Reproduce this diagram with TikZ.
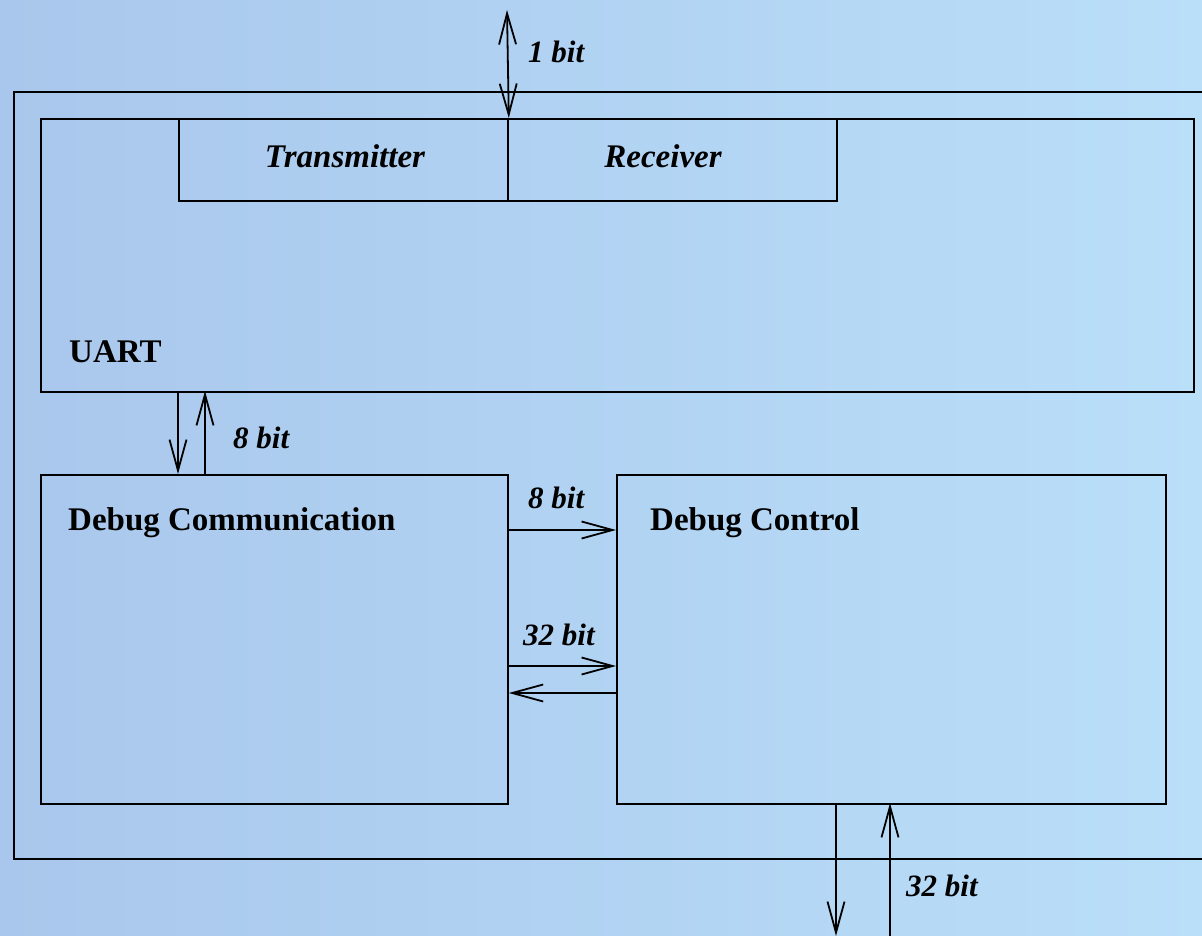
\documentclass[tikz,border=0pt]{standalone}
\usepackage{fontspec}
\setmainfont{Liberation Serif}
\usetikzlibrary{arrows.meta}
\definecolor{bgleft}{RGB}{169,199,236}
\definecolor{bgright}{RGB}{186,223,249}
\begin{document}
\begin{tikzpicture}[x=1pt,y=-1pt,
  boxline/.style={draw=black,line width=1.8pt},
  blk/.style={boxline,inner sep=0pt,anchor=north west},
  lbl/.style={font=\fontsize{33}{36}\selectfont\bfseries,anchor=base west,inner sep=0pt},
  ilbl/.style={font=\fontsize{33}{36}\selectfont\bfseries\itshape,anchor=base west,inner sep=0pt},
  bitlbl/.style={font=\fontsize{31}{34}\selectfont\bfseries\itshape,anchor=base west,inner sep=0pt},
  conn/.style={line width=1.8pt,-{Straight Barb[length=31pt,width=17pt,line width=1.8pt]}},
  bconn/.style={line width=1.8pt,{Straight Barb[length=31pt,width=17pt,line width=1.8pt]}-{Straight Barb[length=31pt,width=17pt,line width=1.8pt]}}
]
\useasboundingbox (0,0) rectangle (1202,936);
\clip (0,0) rectangle (1202,936);
\shade[left color=bgleft,right color=bgright] (0,0) rectangle (1202,936);

% outer frame (open on the right, beyond the picture)
\node[blk,minimum width=1220pt,minimum height=767pt] (outer) at (13,91) {};

% UART
\node[blk,minimum width=1153pt,minimum height=273pt] (uart) at (40,118) {};
\node[blk,minimum width=329pt,minimum height=82pt] (tx) at (178,118) {};
\node[blk,minimum width=329pt,minimum height=82pt] (rx) at (507,118) {};
\node[ilbl,anchor=base] (txl) at (345,168) {Transmitter};
\node[ilbl,anchor=base] (rxl) at (663,168) {Receiver};
\node[lbl] (uartl) at (69,362) {UART};

% Debug blocks
\node[blk,minimum width=467pt,minimum height=329pt] (dcom) at (40,474) {};
\node[blk,minimum width=549pt,minimum height=329pt] (dctl) at (616,474) {};
\node[lbl] (dcoml) at (68,530) {Debug Communication};
\node[lbl] (dctll) at (650,530) {Debug Control};

% 1 bit
\coordinate (ext1) at (507,10);
\draw[bconn] (ext1) -- (tx.north east);
\node[bitlbl] (l1) at (528,63) {1 bit};

% 8 bit UART <-> Debug Communication
\draw[conn] (uart.south west -| tx.south west) -- (dcom.north west -| tx.south west);
\coordinate (u8) at (205,391);
\coordinate (d8) at (205,474);
\draw[conn] (d8) -- (u8);
\node[bitlbl] (l8a) at (233,448) {8 bit};

% Debug Communication <-> Debug Control
\coordinate (a1) at (507,530);
\draw[conn] (a1) -- (a1 -| dctl.west);
\node[bitlbl] (l8b) at (528,508) {8 bit};
\coordinate (a2) at (507,666);
\draw[conn] (a2) -- (a2 -| dctl.west);
\node[bitlbl] (l32a) at (523,645) {32 bit};
\coordinate (a3) at (616,693);
\draw[conn] (a3) -- (a3 -| dcom.east);

% 32 bit external
\coordinate (b1) at (836,803);
\coordinate (b1e) at (836,936);
\draw[conn] (b1) -- (b1e);
\coordinate (b2) at (890,803);
\coordinate (b2e) at (890,940);
\draw[conn] (b2e) -- (b2);
\node[bitlbl] (l32b) at (906,896) {32 bit};
\end{tikzpicture}
\end{document}
